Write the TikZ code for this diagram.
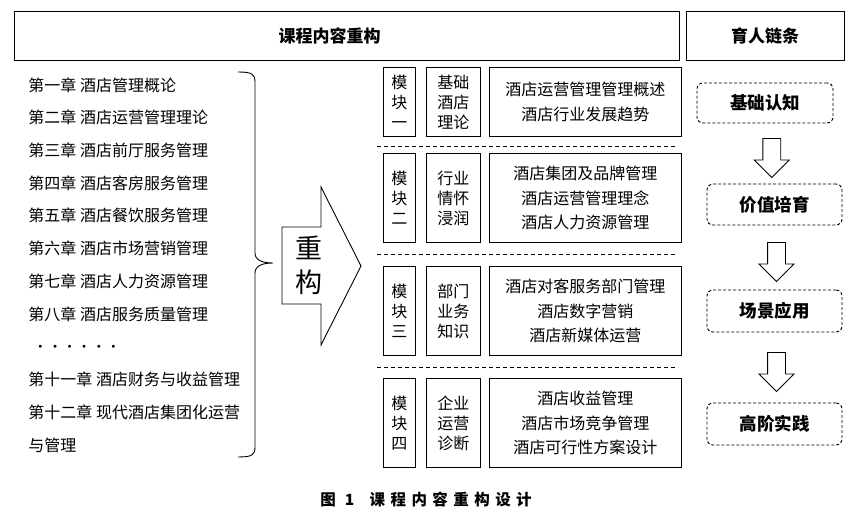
\documentclass[tikz,border=0pt]{standalone}
\usepackage{fontspec}
\setmainfont{Noto Sans CJK SC}
\newfontfamily\capfont[LetterSpace=35]{Noto Sans CJK SC}
\usepackage{tikz}
\usetikzlibrary{positioning,calc,shapes.arrows}

\begin{document}
\begin{tikzpicture}[x=1pt,y=-1pt,line width=.9pt,
  every node/.style={font=\fontsize{16}{18}\selectfont},
  head/.style={draw,minimum height=49pt,font=\fontsize{17}{20}\selectfont\bfseries},
  chap/.style={anchor=west,inner sep=0pt},
  modbox/.style={draw,anchor=north west,align=center,inner sep=0pt,font=\fontsize{16}{20}\selectfont},
  topic/.style={modbox,font=\fontsize{16}{24.5}\selectfont},
  stage/.style={draw,dash pattern=on 3pt off 2pt,rounded corners=6pt,minimum width=135pt,minimum height=41pt,font=\fontsize{17.5}{20}\selectfont\bfseries},
  downarr/.style={draw,single arrow,shape border rotate=270,minimum width=34pt,minimum height=39pt,single arrow head extend=8.5pt,inner sep=8.5pt}]
\useasboundingbox (0,0) rectangle (867,521);
\node[head,minimum width=665pt] (course) at (346.5,35.5) {\hspace*{-34pt}课程内容重构};
\node[head,minimum width=158pt] (chain) at (765,35.5) {育人链条};
\foreach \t [count=\i] in {第一章 酒店管理概论,第二章 酒店运营管理理论,第三章 酒店前厅服务管理,第四章 酒店客房服务管理,第五章 酒店餐饮服务管理,第六章 酒店市场营销管理,第七章 酒店人力资源管理,第八章 酒店服务质量管理}
  \node[chap] (ch\i) at (28,{85+(\i-1)*32.7}) {\t};
\node[chap,font=\fontsize{7}{8}\selectfont] (dots) at (38,347) {$\bullet$\hspace{10.5pt}$\bullet$\hspace{10.5pt}$\bullet$\hspace{10.5pt}$\bullet$\hspace{10.5pt}$\bullet$\hspace{10.5pt}$\bullet$};
\node[chap] (ch11) at (28,379.5) {第十一章 酒店财务与收益管理};
\node[chap] (ch12) at (28,412) {第十二章 现代酒店集团化运营};
\node[chap] (ch12b) at (28,445) {与管理};
\draw (238,72) .. controls (252,72) and (255,74) .. (255,82) -- (255,253) .. controls (255,260) and (262,263) .. (273,263) .. controls (262,263) and (255,266) .. (255,273) -- (255,447) .. controls (255,455) and (252,457) .. (238,457);
\draw (282,227) -- (321,227) -- (321,187) -- (361,266) -- (321,345) -- (321,304) -- (282,304) -- cycle;
\node[font=\fontsize{27}{34}\selectfont,align=center] (rebuild) at (309,265) {重\\构};
\foreach \y/\h/\n/\a/\b/\c in {67/69/1/{模\\块\\一}/{基础\\酒店\\理论}/{酒店运营管理管理概述\\酒店行业发展趋势},
    153/89/2/{模\\块\\二}/{行业\\情怀\\浸润}/{酒店集团及品牌管理\\酒店运营管理理念\\酒店人力资源管理},
    266/89/3/{模\\块\\三}/{部门\\业务\\知识}/{酒店对客服务部门管理\\酒店数字营销\\酒店新媒体运营},
    378/89/4/{模\\块\\四}/{企业\\运营\\诊断}/{酒店收益管理\\酒店市场竞争管理\\酒店可行性方案设计}}{
  \node[modbox,minimum width=32pt,minimum height=\h pt] (mod\n) at (383,\y) {\a};
  \node[modbox,minimum width=54pt,minimum height=\h pt,right=10pt of mod\n.north east,anchor=north west] (theme\n) {\b};
  \node[topic,minimum width=192pt,minimum height=\h pt,right=8pt of theme\n.north east,anchor=north west] (topic\n) {\c};
}
\foreach \y in {146,254,367}
  \draw[dash pattern=on 4pt off 3pt] (377,\y) -- (678,\y);
\node[stage,minimum width=136pt,minimum height=40pt] (s1) at (765,103) {基础认知};
\node[stage] (s2) at (774.5,204.5) {价值培育};
\node[stage,minimum height=42pt] (s3) at (774.5,311) {场景应用};
\node[stage,minimum height=42pt] (s4) at (774.5,424) {高阶实践};
\foreach \a/\b in {1/2,2/3,3/4}
  \node[downarr] (go\a) at ($(s\a.south)!.5!(s\b.north)+(2,0)$) {};
\node[font=\fontsize{15.5}{18}\capfont\bfseries] (caption) at (426,500) {图 1\quad 课程内容重构设计};
\end{tikzpicture}
\end{document}
